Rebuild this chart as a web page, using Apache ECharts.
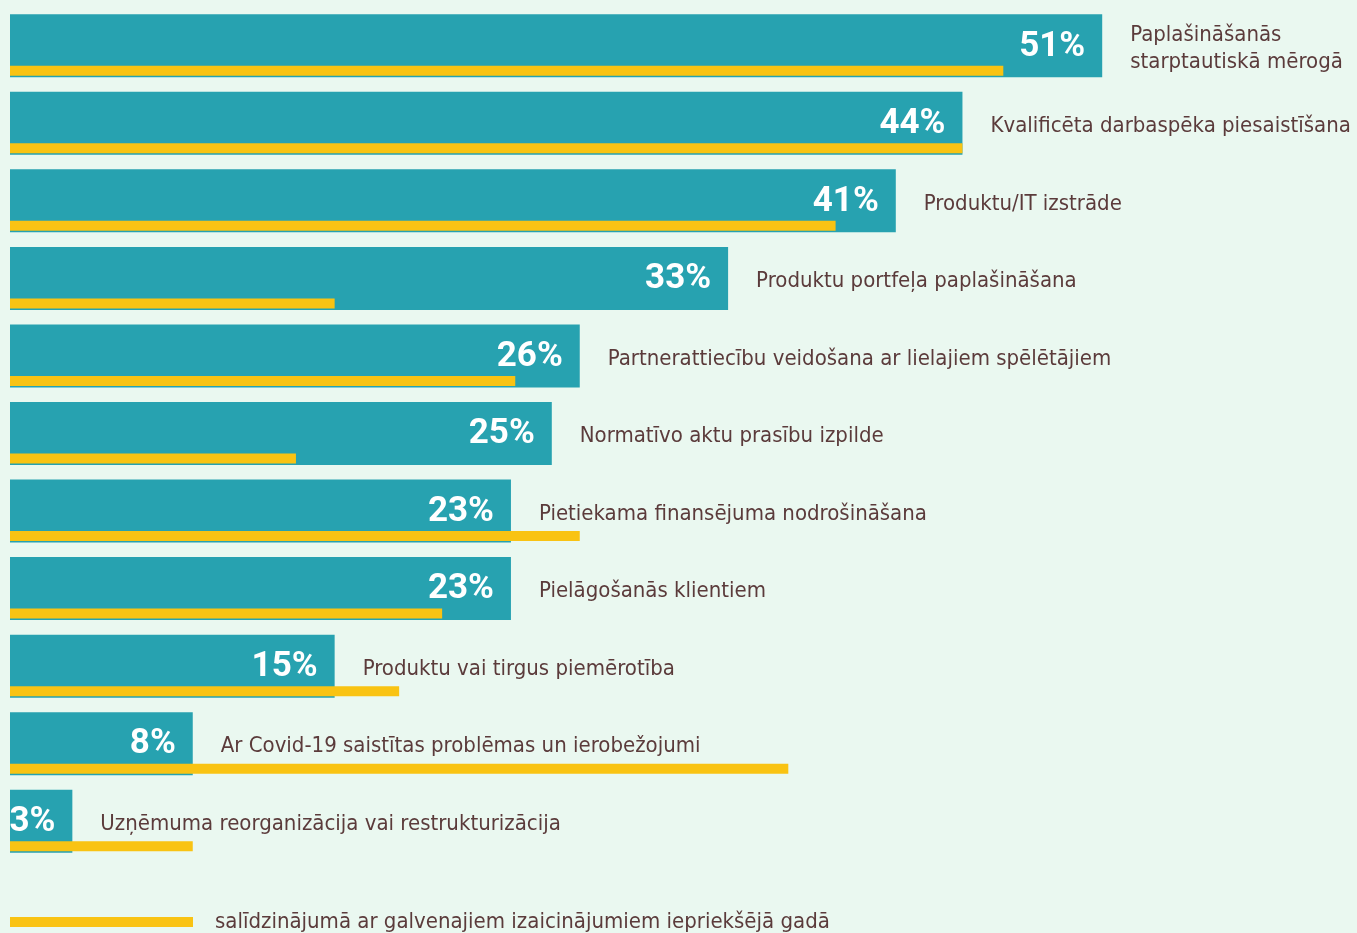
<!DOCTYPE html>
<html>
<head>
<meta charset="utf-8">
<script src="https://cdn.jsdelivr.net/npm/echarts@6/dist/echarts.min.js"></script>
<style>
    html, body { margin: 0; padding: 0; background: #eaf8f0; }
    #chart { width: 1357px; height: 933px; }
</style>
</head>
<body>
<div id="chart"></div>
<script>
const categories = [
    'Paplašināšanās\nstarptautiskā mērogā',
    'Kvalificēta darbaspēka piesaistīšana',
    'Produktu/IT izstrāde',
    'Produktu portfeļa paplašināšana',
    'Partnerattiecību veidošana ar lielajiem spēlētājiem',
    'Normatīvo aktu prasību izpilde',
    'Pietiekama finansējuma nodrošināšana',
    'Pielāgošanās klientiem',
    'Produktu vai tirgus piemērotība',
    'Ar Covid-19 saistītas problēmas un ierobežojumi',
    'Uzņēmuma reorganizācija vai restrukturizācija'
];
const currentValues = [50.8, 44.3, 41.2, 33.4, 26.5, 25.2, 23.3, 23.3, 15.1, 8.5, 2.9];
const currentLabels = ['51%', '44%', '41%', '33%', '26%', '25%', '23%', '23%', '15%', '8%', '3%'];
const previousValues = [46.2, 44.3, 38.4, 15.1, 23.5, 13.3, 26.5, 20.1, 18.1, 36.2, 8.5];
const previousName = 'salīdzinājumā ar galvenajiem izaicinājumiem iepriekšējā gadā';

const textFont = '"DejaVu Sans Condensed", "Liberation Sans Narrow", sans-serif';

const chart = echarts.init(document.getElementById('chart'));
const option = {
    backgroundColor: '#eaf8f0',
    animation: false,
    legend: {
        data: [previousName],
        left: 10,
        top: 911,
        padding: 0,
        icon: 'rect',
        itemWidth: 183,
        itemHeight: 10,
        textStyle: {
            color: '#5b3b3b',
            fontFamily: textFont,
            fontSize: 22,
            padding: [0, 0, 4, 17]
        }
    },
    grid: [
        { left: 10, right: 57, top: 7, height: 853 },
        { left: 10, right: 57, top: 32, height: 853 }
    ],
    xAxis: [
        { type: 'value', gridIndex: 0, min: 0, max: 60, show: false },
        { type: 'value', gridIndex: 1, min: 0, max: 60, show: false }
    ],
    yAxis: [
        { type: 'category', gridIndex: 0, data: categories, inverse: true, show: false },
        { type: 'category', gridIndex: 1, data: categories, inverse: true, show: false }
    ],
    series: [
        {
            name: 'current',
            type: 'bar',
            xAxisIndex: 0,
            yAxisIndex: 0,
            data: currentValues,
            barWidth: 63,
            itemStyle: { color: '#27a2b0' },
            label: {
                show: true,
                position: 'insideRight',
                distance: 17,
                offset: [0, 1],
                formatter: p => currentLabels[p.dataIndex],
                color: '#ffffff',
                fontFamily: 'Roboto, sans-serif',
                fontWeight: 'bold',
                fontSize: 35
            }
        },
        {
            name: 'names',
            type: 'bar',
            xAxisIndex: 0,
            yAxisIndex: 0,
            data: currentValues,
            barWidth: 63,
            barGap: '-100%',
            z: 4,
            itemStyle: { color: 'rgba(0,0,0,0)' },
            label: {
                show: true,
                position: 'right',
                distance: 28,
                offset: [0, 3],
                formatter: p => categories[p.dataIndex],
                color: '#5b3b3b',
                fontFamily: textFont,
                fontSize: 22,
                lineHeight: 27
            }
        },
        {
            name: previousName,
            type: 'bar',
            xAxisIndex: 1,
            yAxisIndex: 1,
            data: previousValues,
            barWidth: 10,
            z: 3,
            itemStyle: { color: '#f9c313' }
        }
    ]
};
chart.setOption(option);
</script>
</body>
</html>
